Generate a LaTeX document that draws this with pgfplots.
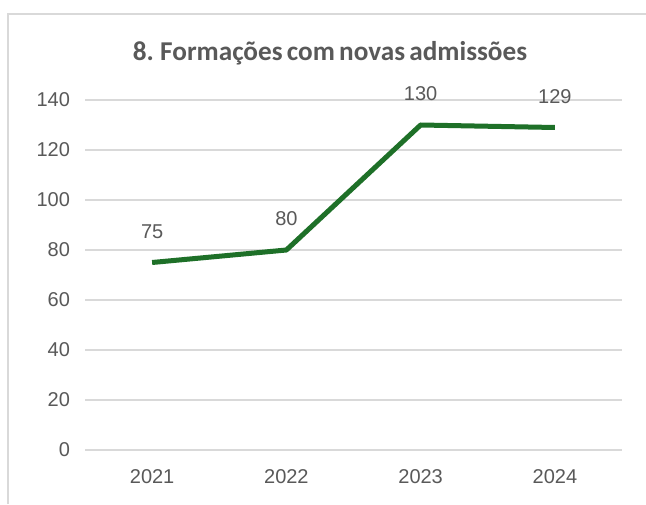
\documentclass[border=0pt]{standalone}
\usepackage{pgfplots}
\pgfplotsset{compat=1.18}
\usepackage{fontspec}
\setmainfont{Liberation Sans}
\newfontfamily\titlefont[WordSpace=0.7]{Carlito}
\definecolor{linegreen}{RGB}{30,112,40}
\definecolor{txtgray}{RGB}{89,89,89}
\definecolor{gridgray}{RGB}{217,217,217}
\begin{document}
\begin{tikzpicture}
  \path[use as bounding box, fill=white] (0,0) rectangle (323pt,252pt);
  \draw[gridgray, line width=1pt] (4pt,0) -- (4pt,245pt) -- (323pt,245pt);
  \node[text=txtgray, font=\titlefont\bfseries\fontsize{13.6}{15}\selectfont] at (165pt,225.5pt) {8. Formações com novas admissões};
  \begin{axis}[
      at={(42.5pt,27pt)}, anchor=south west,
      scale only axis, width=268.5pt, height=175pt,
      xmin=-0.5, xmax=3.5, ymin=0, ymax=140,
      xtick={0,1,2,3}, xticklabels={2021,2022,2023,2024},
      ytick={0,20,...,140},
      axis line style={draw=none},
      major tick length=0pt,
      ymajorgrids, grid style={gridgray, line width=0.8pt},
      tick label style={text=txtgray, font=\fontsize{10}{12}\selectfont},
      /pgf/number format/assume math mode=true,
      yticklabel style={xshift=-4pt},
      xticklabel style={yshift=-6pt},
      clip=false,
      nodes near coords,
      every node near coord/.append style={anchor=center, yshift=15.5pt, text=txtgray, font=\fontsize{10}{12}\selectfont},
    ]
    \addplot[linegreen, line width=2.5pt, line join=round, mark=none] coordinates {
      (0,75) (1,80) (2,130) (3,129)
    };
  \end{axis}
\end{tikzpicture}
\end{document}
